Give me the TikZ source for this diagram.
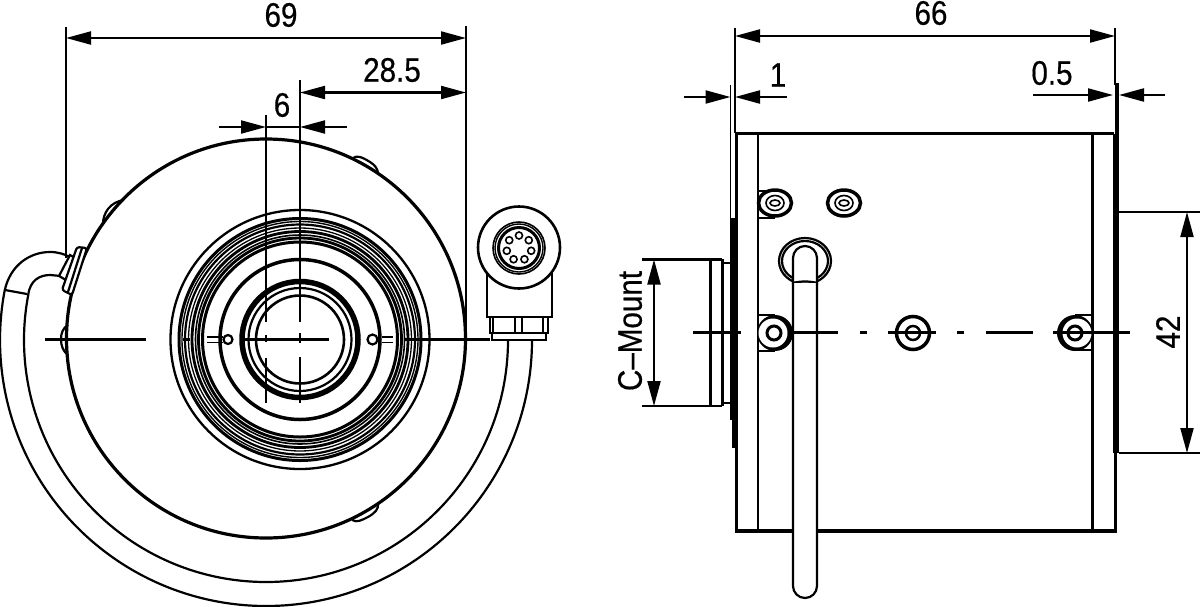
\documentclass[tikz,border=0pt]{standalone}
\usepackage{fontspec}
\setmainfont{Liberation Sans}[FakeStretch=0.87,FakeBold=0.5]
\usetikzlibrary{arrows.meta, calc}
\tikzset{
    >={Triangle[length=25pt,width=13pt]}, % the heavy dimension arrow heads
    every node/.style={font=\fontsize{34}{34}\selectfont, inner sep=0pt},
    dimline/.style={line width=2.1pt}, % dimension and extension lines
    centerline/.style={line width=2.2pt},
    outline/.style={line width=3.2pt},
    thinline/.style={line width=2.2pt},
    }

\begin{document}
\begin{tikzpicture}[x=1pt,y=-1pt]
\useasboundingbox (0,0) rectangle (1200,606);

% cable, front view
\coordinate (bodyc) at (266,338.5);
\coordinate (lensc) at (300,339.5);
\coordinate (cablec) at (266,339);
\draw[thinline] (532,340) arc[start angle=0,end angle=-190.6,radius=266pt]
      .. controls (10,265) and (30,252) .. (50,252) .. controls (58,252) and (64,254) .. (70,257);
\draw[thinline] (508,340) arc[start angle=0,end angle=-190.7,radius=242pt]
      .. controls (30,280) and (40,275) .. (50,275) -- (61,276);
\draw[thinline] (5,290) -- (27,294);

% housing, front view
\draw[outline, fill=white] (bodyc) circle[radius=199.5pt];
\draw[thinline] (103,224) .. controls (103,213) and (110,202) .. (124,200);
\draw[thinline] (353,158) .. controls (357,155) and (362,157) .. (370,162) .. controls (375,165) and (378,169) .. (378,174);
\draw[thinline] (352,520) .. controls (357,523) and (362,520) .. (368,517) .. controls (375,513) and (379,509) .. (378,503);
\draw[thinline] (68,325) .. controls (63,328) and (61,333) .. (61,339) .. controls (61,346) and (63,351) .. (68,355);
\draw[thinline, fill=white] (59,276) -- (70,255) -- (75,258) -- (66,280) -- cycle;
\draw[thinline, fill=white, rounded corners=2.5pt] (62,290) -- (77,247) -- (87,248) -- (72,295) -- cycle;
\draw[thinline] (68,292) -- (82,248);

% lens rings
\foreach \rad/\wid in {129.5/2.3, 121/3, 118/1.4, 115/2.2, 111.5/1.3, 108/2.8, 104.5/1.6, 101.5/2.8, 97.5/3, 80/3.5, 58/5.5, 51.5/2.2, 44/2.6}
    \draw[line width=\wid pt] (lensc) circle[radius=\rad pt];

% extension and center lines, front view
\draw[dimline] (66,27) -- (66,258);
\draw[dimline] (466,26) -- (466,339);
\draw[dimline] (300,80) -- (300,322) (300,333) -- (300,343) (300,357) -- (300,403);
\draw[dimline] (266,115) -- (266,322) (266,335) -- (266,342) (266,358) -- (266,403);
\draw[dimline] (45,339.5) -- (146,339.5) (183,339.5) -- (190,339.5) (240,339.5) -- (329,339.5) (405,339.5) -- (490,339.5);
\draw[line width=1.5pt] (207,337) -- (223,337) (207,342.5) -- (223,342.5);
\draw[line width=1.5pt] (382,337) -- (393,337) (382,342.5) -- (393,342.5);
\draw[thinline, fill=white] (228,339.5) circle[radius=4.5pt];
\draw[thinline, fill=white] (372.5,339.5) circle[radius=5pt];

% angled plug
\draw[thinline, fill=white] (492,333) rectangle (546,340);
\draw[thinline, fill=white] (490,317) rectangle (548,333);
\foreach \xa in {493,515,522,543}
    \draw[thinline] (\xa,317) -- (\xa,333);
\draw[thinline, fill=white] (487,270) rectangle (552,317);
\draw[line width=2.6pt, fill=white] (519,247.5) circle[radius=41pt];
\draw[line width=1.6pt] (519,248) circle[radius=26pt];
\draw[line width=1.4pt] (519,248) circle[radius=24pt];
\draw[line width=3pt] (519,248) circle[radius=20.5pt];
\foreach \ang in {90,38.6,-12.9,-64.3,-115.7,-167.1,141.4}
    \draw[line width=1.6pt] ($(519,248)+(\ang:12.5pt)$) circle[radius=3.5pt];

% dimensions, front view
\coordinate (w69l) at (66,38);
\coordinate (w69r) at (466,38);
\coordinate (off28) at (300,92.5);
\coordinate (off28r) at (466,92.5);
\draw[dimline, <->] (w69l) -- (w69r);
\draw[dimline, <->] (off28) -- (off28r);
\draw[dimline, ->] (219,127) -- (266,127);
\draw[dimline, ->] (347,127) -- (300,127);
\draw[dimline] (266,127) -- (300,127);
\node (t69) at (281,15) {69};
\node (t285) at (392,70) {28.5};
\node (t6) at (282,105) {6};

% housing, side view
\fill (730,218) rectangle (738,420);
\fill (732,420) rectangle (738,448);
\draw[line width=1.5pt] (730.5,85) -- (730.5,218);
\draw[dimline] (735,28) -- (735,133);
\draw[outline, line cap=round] (736.5,133.5) -- (736.5,531) -- (1115.5,531) -- (1115.5,453);
\draw[outline] (736.5,133.5) -- (1114,133.5);
\fill (1115,83) rectangle (1119,134);
\fill (1113,134) rectangle (1119,453);
\draw[dimline] (1115,28) -- (1115,85);
\draw[thinline] (758,133) -- (758,531);
\draw[thinline] (1092.5,133) -- (1092.5,531);

% c-mount thread
\draw[dimline] (642,259.5) -- (722,259.5) (642,406) -- (722,406);
\draw[line width=3pt] (710,259) -- (710,406);
\draw[line width=3pt] (722,259) -- (722,406);
\draw[dimline] (722,263) -- (730,263) (722,403) -- (730,403);

% screws, side view
\draw[thinline] (758,191) -- (775,191) (758,218) -- (775,218);
\foreach \xa in {775,844} {
    \draw[line width=3.5pt, fill=white] (\xa,203) ellipse[x radius=16.5pt, y radius=13pt];
    \draw[line width=1.6pt] (\xa,203) ellipse[x radius=9pt, y radius=7.5pt];
    \draw[line width=1.6pt] (\xa,203) ellipse[x radius=5pt, y radius=3pt];
}
\draw[thinline] (758,315) -- (775,315) (758,351) -- (775,351);
\fill (775,333) circle[radius=18pt];
\fill[white] (773,333) circle[radius=14.5pt];
\draw[line width=3pt] (774,333) circle[radius=7pt];
\draw[line width=3.5pt, fill=white] (913,333) circle[radius=16.5pt];
\draw[line width=2.5pt] (913,333) circle[radius=7pt];
\draw[thinline] (1075,315) -- (1092,315) (1075,350) -- (1092,350);
\fill (1075,333) circle[radius=18pt];
\fill[white] (1077,333) circle[radius=14.5pt];
\draw[line width=3pt] (1075,333) circle[radius=7pt];

% cable, side view
\draw[thinline] (805,261) ellipse[x radius=26pt, y radius=23pt];
\draw[thinline] (805,261) ellipse[x radius=23pt, y radius=20pt];
\draw[thinline, fill=white] (793,283) -- (793,258) arc[start angle=180,end angle=0,radius=12pt] -- (817,283) .. controls (810,281) and (800,281) .. cycle;
\draw[thinline, fill=white] (793,283) -- (793,586) arc[start angle=180,end angle=360,radius=12pt] -- (817,283);

% center line, side view
\foreach \xa/\xb in {693/741, 793/838, 860/867, 888/936, 957/964, 986/1033, 1053/1130}
    \draw[centerline] (\xa,332.5) -- (\xb,332.5);

% dimensions, side view
\coordinate (w66l) at (735,36);
\coordinate (w66r) at (1115,36);
\coordinate (h42t) at (1187,212);
\coordinate (h42b) at (1187,453);
\coordinate (cmt) at (654,259.5);
\coordinate (cmb) at (654,406);
\draw[dimline, <->] (w66l) -- (w66r);
\draw[dimline, <->] (h42t) -- (h42b);
\draw[dimline, <->] (cmt) -- (cmb);
\draw[dimline] (1119,212) -- (1200,212) (1119,453) -- (1200,453);
\draw[dimline, ->] (684,97) -- (730.5,97);
\draw[dimline, ->] (787,97) -- (735,97);
\draw[dimline, ->] (1033,95) -- (1113,95);
\draw[dimline, ->] (1165,95) -- (1119,95);
\node (t66) at (931,13) {66};
\node (t1) at (778,75) {1};
\node (t05) at (1052,73) {0.5};
\node[rotate=90] (t42) at (1168,332) {42};
\node[rotate=90] (tcm) at (630,331) {C--Mount};

\end{tikzpicture}
\end{document}
